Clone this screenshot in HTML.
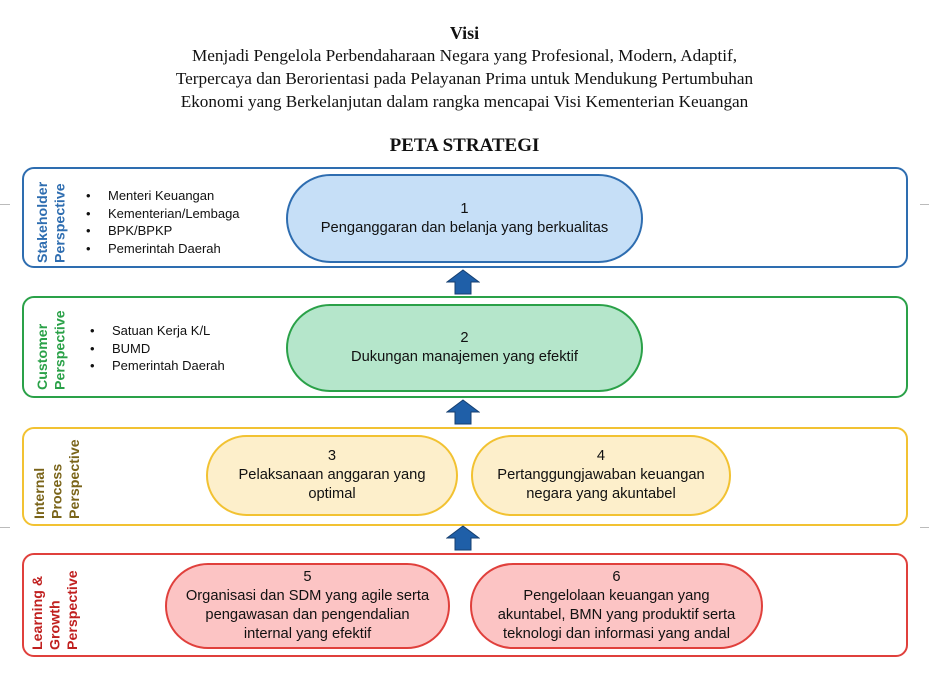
<!DOCTYPE html>
<html><head><meta charset="utf-8"><style>
*{margin:0;padding:0;box-sizing:border-box}
body{width:929px;height:679px;background:#fff;position:relative;overflow:hidden;font-family:"Liberation Sans",sans-serif;color:#111}
.ser{position:absolute;left:0;width:929px;text-align:center;font-family:"Liberation Serif",serif;font-size:17.2px;line-height:23px}
.panel{position:absolute;left:22px;width:886px;border:2px solid;border-radius:12px;background:#fff}
.pill{position:absolute;border:2px solid;text-align:center;display:flex;flex-direction:column;justify-content:center;font-size:14.7px;line-height:19px;color:#111}
.vl{position:absolute;writing-mode:vertical-rl;transform:rotate(180deg);font-weight:bold;font-size:14.2px;line-height:17.5px;text-align:left}
ul{position:absolute;list-style:none;font-size:13px;line-height:17.5px}
ul li:before{content:"•";display:inline-block;width:22px}
.arr{position:absolute}
.g{position:absolute;height:1px;background:#bbb}
</style></head><body>
<div class="ser" style="top:22px;font-weight:bold;font-size:18px">Visi</div>
<div class="ser" style="top:44px">Menjadi Pengelola Perbendaharaan Negara yang Profesional, Modern, Adaptif,<br>Terpercaya dan Berorientasi pada Pelayanan Prima untuk Mendukung Pertumbuhan<br>Ekonomi yang Berkelanjutan dalam rangka mencapai Visi Kementerian Keuangan</div>
<div class="ser" style="top:134px;font-weight:bold;font-size:19px">PETA STRATEGI</div>
<div class="g" style="left:0;top:204px;width:10px"></div><div class="g" style="left:920px;top:204px;width:9px"></div>
<div class="g" style="left:0;top:527px;width:10px"></div><div class="g" style="left:920px;top:527px;width:9px"></div>

<div class="panel" style="top:167px;height:101px;border-color:#2e6db0"></div>
<div class="vl" style="left:35px;top:172px;height:91px;color:#2e6db0">Stakeholder<br>Perspective</div>
<ul style="left:86px;top:187px"><li>Menteri Keuangan</li><li>Kementerian/Lembaga</li><li>BPK/BPKP</li><li>Pemerintah Daerah</li></ul>
<div class="pill" style="left:286px;top:174px;width:357px;height:89px;border-radius:45px;background:#c6dff7;border-color:#2e6db0">1<br>Penganggaran dan belanja yang berkualitas</div>

<div class="panel" style="top:296px;height:102px;border-color:#2aa148"></div>
<div class="vl" style="left:35px;top:300px;height:90px;color:#2aa148">Customer<br>Perspective</div>
<ul style="left:90px;top:322px"><li>Satuan Kerja K/L</li><li>BUMD</li><li>Pemerintah Daerah</li></ul>
<div class="pill" style="left:286px;top:304px;width:357px;height:88px;border-radius:44px;background:#b5e6cb;border-color:#2aa148">2<br>Dukungan manajemen yang efektif</div>

<div class="panel" style="top:427px;height:99px;border-color:#f2c232"></div>
<div class="vl" style="left:32px;top:432px;height:87px;color:#7a6419">Internal<br>Process<br>Perspective</div>
<div class="pill" style="left:206px;top:435px;width:252px;height:81px;border-radius:41px;background:#fdefcb;border-color:#f2c232">3<br>Pelaksanaan anggaran yang<br>optimal</div>
<div class="pill" style="left:471px;top:435px;width:260px;height:81px;border-radius:41px;background:#fdefcb;border-color:#f2c232">4<br>Pertanggungjawaban keuangan<br>negara yang akuntabel</div>

<div class="panel" style="top:553px;height:104px;border-color:#e0403c"></div>
<div class="vl" style="left:30px;top:558px;height:92px;color:#c0201f">Learning &amp;<br>Growth<br>Perspective</div>
<div class="pill" style="left:165px;top:563px;width:285px;height:86px;border-radius:43px;background:#fcc4c4;border-color:#e0403c">5<br>Organisasi dan SDM yang agile serta<br>pengawasan dan pengendalian<br>internal yang efektif</div>
<div class="pill" style="left:470px;top:563px;width:293px;height:86px;border-radius:43px;background:#fcc4c4;border-color:#e0403c">6<br>Pengelolaan keuangan yang<br>akuntabel, BMN yang produktif serta<br>teknologi dan informasi yang andal</div>

<svg class="arr" style="left:446px;top:269px" width="34" height="26"><polygon points="17,1 33,13 25,13 25,25 9,25 9,13 1,13" fill="#1f5fa8" stroke="#153f70" stroke-width="1"/></svg>
<svg class="arr" style="left:446px;top:399px" width="34" height="26"><polygon points="17,1 33,13 25,13 25,25 9,25 9,13 1,13" fill="#1f5fa8" stroke="#153f70" stroke-width="1"/></svg>
<svg class="arr" style="left:446px;top:525px" width="34" height="26"><polygon points="17,1 33,13 25,13 25,25 9,25 9,13 1,13" fill="#1f5fa8" stroke="#153f70" stroke-width="1"/></svg>
</body></html>
